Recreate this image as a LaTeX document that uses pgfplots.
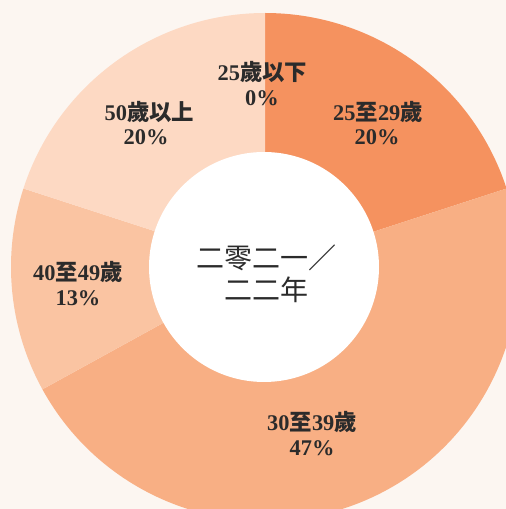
\documentclass[border=0pt]{standalone}
\usepackage{pgfplots}
\pgfplotsset{compat=1.18}
\usepackage{pgfplotstable}
\usepackage{fontspec}
\setmainfont{Liberation Serif}
\newfontfamily\cjk{Noto Sans CJK TC}
\definecolor{bg}{HTML}{FCF6F1}
\definecolor{cA}{HTML}{FDD9C3}
\definecolor{cB}{HTML}{F5925F}
\definecolor{cC}{HTML}{F8AF84}
\definecolor{cD}{HTML}{FAC4A2}
\definecolor{cE}{HTML}{FDD9C3}
\definecolor{txt}{HTML}{2B2B2B}
\pgfplotstableread[col sep=comma]{
label,value
u25,0
a2529,20
a3039,47
a4049,13
o50,20
}\agedata
\begin{document}
\begin{tikzpicture}
\def\cum{0}
\pgfplotsforeachungrouped \i in {0,...,4}{%
  \pgfplotstablegetelem{\i}{value}\of\agedata
  \pgfmathsetmacro{\sa}{90-3.6*\cum}%
  \pgfmathsetmacro{\cum}{\cum+\pgfplotsretval}%
  \pgfmathsetmacro{\sb}{90-3.6*\cum}%
  \expandafter\xdef\csname sa\i\endcsname{\sa}%
  \expandafter\xdef\csname sb\i\endcsname{\sb}%
}
\begin{axis}[
  x=0.5pt, y=0.5pt,
  xmin=0, xmax=506, ymin=0, ymax=509,
  hide axis, clip=true,
]
\fill[bg] (axis cs:0,0) rectangle (axis cs:506,509);
\coordinate (sw) at (axis cs:0,0);
\coordinate (ne) at (axis cs:506,509);
\fill[cA] (axis cs:265,242) -- ++(\csname sa0\endcsname:127pt) arc[start angle=\csname sa0\endcsname, end angle=\csname sb0\endcsname, radius=127pt] -- cycle;
\fill[cB] (axis cs:265,242) -- ++(\csname sa1\endcsname:127pt) arc[start angle=\csname sa1\endcsname, end angle=\csname sb1\endcsname, radius=127pt] -- cycle;
\fill[cC] (axis cs:265,242) -- ++(\csname sa2\endcsname:127pt) arc[start angle=\csname sa2\endcsname, end angle=\csname sb2\endcsname, radius=127pt] -- cycle;
\fill[cD] (axis cs:265,242) -- ++(\csname sa3\endcsname:127pt) arc[start angle=\csname sa3\endcsname, end angle=\csname sb3\endcsname, radius=127pt] -- cycle;
\fill[cE] (axis cs:265,242) -- ++(\csname sa4\endcsname:127pt) arc[start angle=\csname sa4\endcsname, end angle=\csname sb4\endcsname, radius=127pt] -- cycle;
\fill[white] (axis cs:264,242) circle[radius=57.5pt];
% labels
\tikzset{lab/.style={text=txt, font=\fontsize{11.2}{13}\selectfont\bfseries, inner sep=0pt, anchor=center}}
\node[lab] at (axis cs:262.5,437) {25{\cjk 歲以下}};
\node[lab] at (axis cs:262,411) {0\%};
\node[lab] at (axis cs:149.5,397) {50{\cjk 歲以上}};
\node[lab] at (axis cs:146,372) {20\%};
\node[lab] at (axis cs:378,397) {25{\cjk 至}29{\cjk 歲}};
\node[lab] at (axis cs:377,372) {20\%};
\node[lab] at (axis cs:78,237) {40{\cjk 至}49{\cjk 歲}};
\node[lab] at (axis cs:78,211) {13\%};
\node[lab] at (axis cs:312,87) {30{\cjk 至}39{\cjk 歲}};
\node[lab] at (axis cs:312,61) {47\%};
\node[text=txt, font=\cjk\fontsize{14}{16}\selectfont, inner sep=0pt] at (axis cs:266,251) {二零二一／};
\node[text=txt, font=\cjk\fontsize{14}{16}\selectfont, inner sep=0pt] at (axis cs:266,219) {二二年};
\end{axis}
\pgfresetboundingbox
\useasboundingbox (sw) rectangle (ne);
\end{tikzpicture}
\end{document}
